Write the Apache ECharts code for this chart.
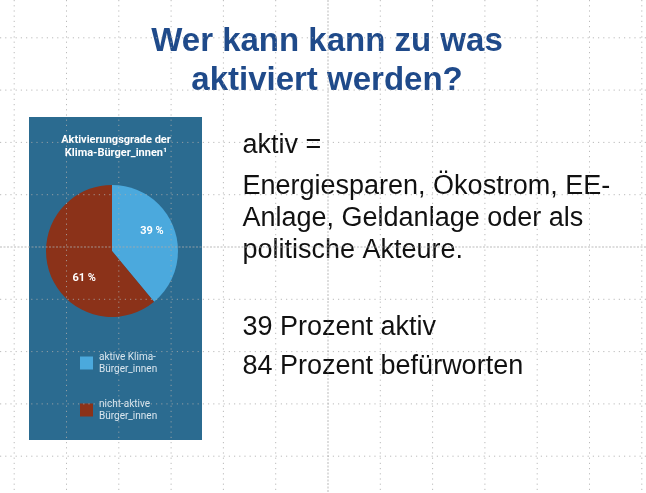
<!DOCTYPE html>
<html>
<head>
<meta charset="utf-8">
<script src="https://cdn.jsdelivr.net/npm/echarts@6/dist/echarts.min.js"></script>
<style>
  html, body { margin:0; padding:0; background:#fff; }
  #chart { width:646px; height:493px; }
</style>
</head>
<body>
<div id="chart"></div>
<script type="text/javascript">
  // Daten
  var categories = ['aktive Klima-\nBürger_innen', 'nicht-aktive\nBürger_innen'];
  var shares = [39, 61];
  var sliceColors = ['#4ba9dd', '#8b3219'];

  var slideTitle = ['Wer kann kann zu was', 'aktiviert werden?'];
  var panelTitle = 'Aktivierungsgrade der\nKlima-Bürger_innen¹';
  var bodyLines = [
    'aktiv =',
    'Energiesparen, Ökostrom, EE-',
    'Anlage, Geldanlage oder als',
    'politische Akteure.',
    '39 Prozent aktiv',
    '84 Prozent befürworten'
  ];

  var myChart = echarts.init(document.getElementById('chart'));

  // Hilfslinien (gepunktetes Raster)
  var gridEls = [];
  var i;
  for (i = -6; i <= 6; i++) {
    var gx = 328 + 52.3 * i;
    gridEls.push({
      type: 'line', z: 50, silent: true,
      shape: { x1: gx, y1: 0, x2: gx, y2: 493 },
      style: { stroke: '#aaaaaa', lineWidth: 1, opacity: 0.8, lineDash: i === 0 ? [2, 1.5] : [1.2, 4] }
    });
  }
  for (i = -4; i <= 4; i++) {
    var gy = 247 + 52.3 * i;
    gridEls.push({
      type: 'line', z: 50, silent: true,
      shape: { x1: 0, y1: gy, x2: 646, y2: gy },
      style: { stroke: '#aaaaaa', lineWidth: 1, opacity: 0.8, lineDash: i === 0 ? [2, 1.5] : [1.2, 4] }
    });
  }

  var textEls = [];
  var titleBase = [53.5, 92.5];
  for (i = 0; i < slideTitle.length; i++) {
    textEls.push({
      type: 'text', z: 20,
      style: {
        text: slideTitle[i], x: 327, y: titleBase[i] - 11.5,
        font: 'bold 33px "Liberation Sans", Arial, sans-serif',
        fill: '#1f4a8a', align: 'center', verticalAlign: 'middle'
      }
    });
  }
  var bodyBase = [155, 196.5, 228.5, 260, 337.5, 376.5];
  for (i = 0; i < bodyLines.length; i++) {
    textEls.push({
      type: 'text', z: 20,
      style: {
        text: bodyLines[i], x: 242.5, y: bodyBase[i] - 9.5,
        font: '27px "Liberation Sans", Arial, sans-serif',
        fill: '#111', align: 'left', verticalAlign: 'middle'
      }
    });
  }

  var pieData = [];
  for (i = 0; i < categories.length; i++) {
    pieData.push({
      name: categories[i],
      value: shares[i],
      itemStyle: { color: sliceColors[i] }
    });
  }
  // Verschiebung der Prozentlabels wie im Original
  var labelShift = [[6, -8], [6, 15]];

  myChart.setOption({
    backgroundColor: '#ffffff',
    animation: false,
    title: {
      text: panelTitle,
      left: 116,
      top: 133,
      padding: 0,
      textAlign: 'center',
      textStyle: {
        color: '#ffffff',
        fontFamily: 'Roboto',
        fontWeight: 'bold',
        fontSize: 11,
        lineHeight: 13.5
      }
    },
    legend: {
      orient: 'vertical',
      left: 80,
      top: 351,
      padding: 0,
      itemWidth: 13,
      itemHeight: 13,
      itemGap: 23,
      icon: 'rect',
      selectedMode: false,
      data: categories,
      textStyle: {
        color: '#dbe7ef',
        fontFamily: 'Roboto',
        fontSize: 10,
        lineHeight: 12,
        padding: [0, 0, 0, 1]
      }
    },
    graphic: {
      elements: [
        {
          type: 'rect', z: -10, silent: true,
          shape: { x: 29, y: 117, width: 173, height: 323 },
          style: { fill: '#2b6b90' }
        }
      ].concat(textEls, gridEls)
    },
    series: [
      {
        name: 'Aktivierungsgrade',
        type: 'pie',
        center: [112, 251],
        radius: 66,
        startAngle: 90,
        clockwise: true,
        z: 2,
        label: {
          show: true,
          position: 'inside',
          formatter: '{c} %',
          color: '#ffffff',
          fontFamily: 'Roboto',
          fontWeight: 'bold',
          fontSize: 11
        },
        labelLayout: function (params) {
          var s = labelShift[params.dataIndex];
          return { dx: s[0], dy: s[1] };
        },
        labelLine: { show: false },
        itemStyle: { borderWidth: 0 },
        emphasis: { disabled: true },
        data: pieData
      }
    ]
  });
</script>
</body>
</html>
